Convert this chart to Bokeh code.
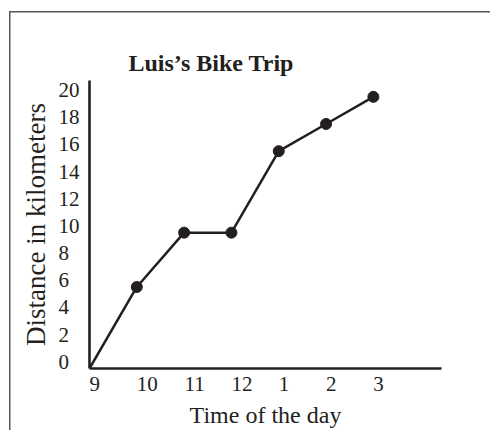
from bokeh.plotting import figure
from bokeh.models import FixedTicker, Range1d, LinearAxis
from bokeh.embed import file_html
from bokeh.resources import INLINE

# ---- data ----
hours = [9, 10, 11, 12, 13, 14, 15]
distance_km = [0, 6, 10, 10, 16, 18, 20]
x_tick_labels = ["9", "10", "11", "12", "1", "2", "3"]
y_ticks = [0, 2, 4, 6, 8, 10, 12, 14, 16, 18, 20]
title_text = "Luis\u2019s Bike Trip"

FONT = "Liberation Serif"
INK = "#231f20"
FIG = "\u2007"  # figure space (digit width), used to pad labels

p = figure(width=490, height=430, output_backend="svg", toolbar_location=None,
           x_range=Range1d(9, 16.44), y_range=Range1d(0, 21.2),
           min_border_left=89, min_border_right=49, min_border_top=80,
           min_border_bottom=62, title=title_text)

xa = p.below[0]
ya = p.left[0]

p.grid.visible = False
p.outline_line_color = None
p.background_fill_color = None
p.border_fill_color = None
p.styles = {
    "background": ("linear-gradient(#555,#555) 9px 11px / 1.5px 100% no-repeat, "
                   "linear-gradient(#555,#555) 9px 11px / 100% 1.5px no-repeat, white"),
}

# empty spacer axis between title and frame
spacer = LinearAxis(ticker=FixedTicker(ticks=[]), axis_line_color=None,
                    major_tick_line_color=None, minor_tick_line_color=None,
                    major_tick_out=24, minor_tick_out=0, major_tick_in=0,
                    minor_tick_in=0, major_label_standoff=0)
p.add_layout(spacer, "above")

# title
p.title.text_font = FONT
p.title.text_font_size = "24px"
p.title.text_font_style = "bold"
p.title.text_color = INK
p.title.align = "left"
p.title.offset = 39
p.title.standoff = 10

for ax in (xa, ya):
    ax.axis_line_width = 2.6
    ax.axis_line_color = INK
    ax.major_tick_line_color = None
    ax.minor_tick_line_color = None
    ax.major_label_text_font = FONT
    ax.major_label_text_color = INK
    ax.major_label_text_font_size = "21px"
    ax.axis_label_text_font = FONT
    ax.axis_label_text_font_style = "normal"
    ax.axis_label_text_color = INK

# x tick labels: left-aligned on their hour (pad on the left with figure spaces)
xa.ticker = FixedTicker(ticks=hours)
xa.major_label_overrides = {h: FIG * len(lab) + lab for h, lab in zip(hours, x_tick_labels)}
xa.major_label_standoff = -3
xa.axis_label = "Time of the day"
xa.axis_label_text_font_size = "24px"
xa.axis_label_standoff = 3

# y tick labels: left-aligned in a 2-digit column, sitting on their value line
maxlen = max(len(str(v)) for v in y_ticks)
ya.ticker = FixedTicker(ticks=[v + 0.5 for v in y_ticks])
ya.major_label_overrides = {v + 0.5: str(v) + FIG * (maxlen - len(str(v))) for v in y_ticks}
ya.major_label_standoff = 4
ya.axis_label = "Distance in kilometers"
ya.axis_label_text_font_size = "27px"
ya.axis_label_standoff = 5

# data
p.line(hours, distance_km, line_width=2.5, line_color=INK)
p.scatter(hours[1:], distance_km[1:], size=11, fill_color=INK, line_color=INK)

open("out.html", "w").write(file_html(p, INLINE))
